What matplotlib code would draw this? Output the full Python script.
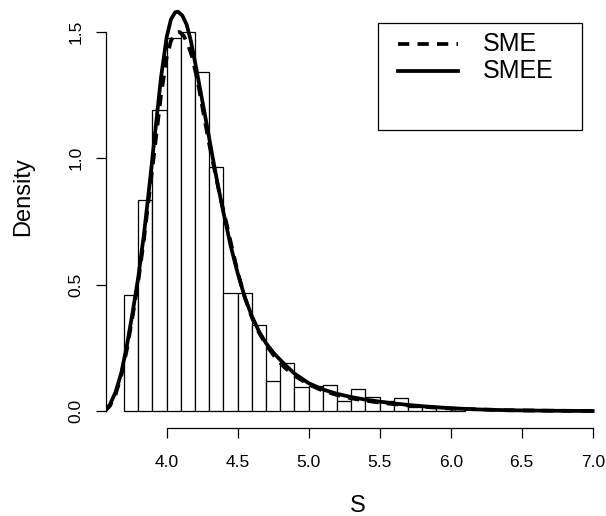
import matplotlib
matplotlib.use("Agg")
import matplotlib.pyplot as plt
from matplotlib.patches import Rectangle
from matplotlib.lines import Line2D

plt.rcParams["font.family"] = ["Liberation Sans", "DejaVu Sans"]

# Histogram of S (density scale), bin width 0.1 starting at 3.7
bin_start = 3.7
bin_width = 0.1
hist_density = [0.46, 0.835, 1.19, 1.478, 1.50, 1.34, 0.965, 0.466, 0.468,
                0.339, 0.12, 0.188, 0.095, 0.10, 0.104, 0.04, 0.086, 0.055,
                0.04, 0.053, 0.015, 0.017, 0.010, 0.008]

# Fitted density curves
sme_x = [3.565, 3.60, 3.64, 3.68, 3.72, 3.76, 3.80, 3.84, 3.88, 3.92, 3.96,
         4.00, 4.03, 4.06, 4.09, 4.12, 4.15, 4.18, 4.22, 4.26, 4.30, 4.34,
         4.38, 4.42, 4.46, 4.50, 4.55, 4.60, 4.65, 4.70, 4.76, 4.83, 4.90,
         5.00, 5.10, 5.20, 5.30, 5.40, 5.50, 5.60, 5.70, 5.80, 5.90, 6.00,
         6.20, 6.40, 6.70, 7.00]
sme_y = [0.000, 0.020, 0.065, 0.140, 0.245, 0.375, 0.515, 0.680, 0.870,
         1.060, 1.250, 1.400, 1.465, 1.495, 1.500, 1.485, 1.450, 1.400,
         1.300, 1.175, 1.055, 0.945, 0.840, 0.745, 0.645, 0.550, 0.450,
         0.370, 0.310, 0.262, 0.215, 0.172, 0.140, 0.105, 0.080, 0.063,
         0.050, 0.041, 0.033, 0.027, 0.022, 0.017, 0.013, 0.010, 0.006,
         0.003, 0.001, 0.000]

smee_x = [3.565, 3.60, 3.64, 3.68, 3.72, 3.76, 3.80, 3.84, 3.88, 3.92, 3.96,
          4.00, 4.03, 4.06, 4.08, 4.11, 4.14, 4.17, 4.20, 4.24, 4.28, 4.32,
          4.36, 4.40, 4.45, 4.50, 4.55, 4.60, 4.65, 4.70, 4.76, 4.83, 4.90,
          5.00, 5.10, 5.20, 5.30, 5.40, 5.50, 5.60, 5.70, 5.80, 5.90, 6.00,
          6.20, 6.40, 6.70, 7.00]
smee_y = [0.000, 0.025, 0.075, 0.150, 0.260, 0.390, 0.530, 0.700, 0.900,
          1.110, 1.320, 1.480, 1.550, 1.578, 1.580, 1.565, 1.530, 1.465,
          1.380, 1.260, 1.140, 1.015, 0.895, 0.785, 0.655, 0.545, 0.450,
          0.375, 0.315, 0.268, 0.225, 0.185, 0.148, 0.110, 0.085, 0.068,
          0.055, 0.045, 0.037, 0.030, 0.024, 0.019, 0.015, 0.011, 0.006,
          0.003, 0.001, 0.000]

x_ticks = [4.0, 4.5, 5.0, 5.5, 6.0, 6.5, 7.0]
y_ticks = [0.0, 0.5, 1.0, 1.5]
series_labels = ["SME", "SMEE"]

W, H = 606, 516
fig = plt.figure(figsize=(W / 100, H / 100), dpi=100)


def fx(px):
    return px / W


def fy(py):
    return 1 - py / H


# plot region in pixel units
L, R, T, B = 105.7, 600.0, 5.0, 428.3
ax = fig.add_axes([fx(L), fy(B), fx(R) - fx(L), fy(T) - fy(B)])
ax.set_xlim(3.5705, 7.0514)
ax.set_ylim(-0.0685, 1.6067)

edges = [bin_start + i * bin_width for i in range(len(hist_density))]
ax.bar(edges, hist_density, width=bin_width, align="edge",
       facecolor="white", edgecolor="black", linewidth=0.9, zorder=1)

dash = (0, (3.0, 2.2))
ax.plot(sme_x, sme_y, color="black", lw=2.7, ls=dash, zorder=3,
        solid_capstyle="butt", dash_capstyle="butt")
ax.plot(smee_x, smee_y, color="black", lw=2.7, zorder=3)

for s in ("top", "right"):
    ax.spines[s].set_visible(False)
ax.spines["left"].set_bounds(0, 1.5)
ax.spines["bottom"].set_bounds(4.0, 7.0)
ax.spines["left"].set_linewidth(0.9)
ax.spines["bottom"].set_linewidth(0.9)

ax.set_xticks(x_ticks)
ax.set_xticklabels([f"{v:.1f}" for v in x_ticks])
ax.set_yticks(y_ticks)
ax.set_yticklabels([f"{v:.1f}" for v in y_ticks], rotation=90, va="center")
ax.tick_params(axis="both", direction="out", length=7.2, width=0.9,
               labelsize=12.5)
ax.tick_params(axis="x", pad=12.3)
ax.tick_params(axis="y", pad=8.8)

ax.set_xlabel("S", fontsize=17)
ax.set_ylabel("Density", fontsize=17)
ax.xaxis.set_label_coords((358 - L) / (R - L), (B - 506) / (B - T))
ax.xaxis.label.set_va("center")
ax.yaxis.set_label_coords((23 - L) / (R - L), (B - 197) / (B - T))
ax.yaxis.label.set_va("center")

# legend box
fig.add_artist(Rectangle((fx(378), fy(130)), fx(582) - fx(378), fy(23) - fy(130),
                         transform=fig.transFigure, facecolor="white",
                         edgecolor="black", linewidth=0.9, zorder=5))
for py, style, lab in ((44, dash, series_labels[0]), (71, "-", series_labels[1])):
    fig.add_artist(Line2D([fx(398), fx(458)], [fy(py), fy(py)],
                          transform=fig.transFigure, color="black", lw=2.7,
                          ls=style, zorder=6))
    fig.text(fx(483), fy(py), lab, fontsize=18, va="center", ha="left",
             zorder=6)

fig.savefig("out.png", dpi=100)
